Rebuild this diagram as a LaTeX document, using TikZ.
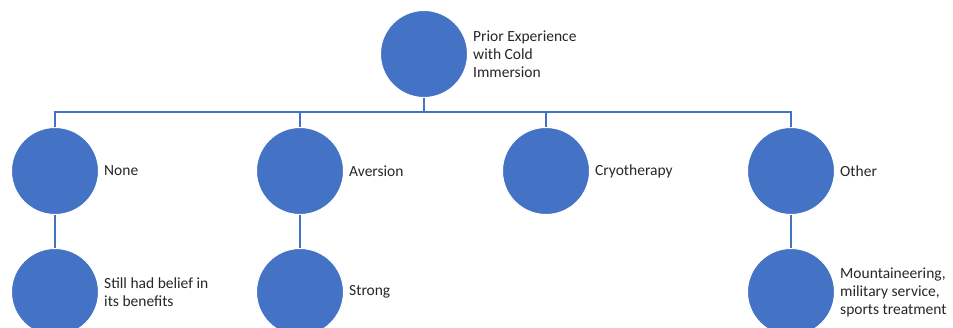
\documentclass[tikz,border=0pt]{standalone}
\usepackage{fontspec}
\setmainfont{Carlito}
\usetikzlibrary{positioning,calc}
\definecolor{dotblue}{HTML}{4472C4}

\begin{document}
\begin{tikzpicture}[
    x=1pt, y=-1pt,
    node distance=33pt and 5pt,
    dot/.style={circle, fill=dotblue, draw=white, line width=1pt,
                minimum size=87pt, inner sep=0pt},
    lbl/.style={align=left, inner sep=0pt, text=black!85,
                font=\fontsize{15.5}{18}\selectfont},
    link/.style={draw=dotblue, line width=2pt}
  ]
  \useasboundingbox (0,0) rectangle (953,328);

  % root
  \node[dot] (prior) at (424,54) {};
  \node[lbl, right=of prior] (priortxt) {Prior Experience\\with Cold\\Immersion};

  % second row
  \node[dot] (none) at (55,171) {};
  \node[dot] (aversion) at (300,171) {};
  \node[dot] (cryo) at (546,171) {};
  \node[dot] (other) at (791,171) {};
  \node[lbl, right=of none] (nonetxt) {None};
  \node[lbl, right=of aversion] (aversiontxt) {Aversion};
  \node[lbl, right=of cryo] (cryotxt) {Cryotherapy};
  \node[lbl, right=of other] (othertxt) {Other};

  % third row
  \node[dot, below=of none] (belief) {};
  \node[dot, below=of aversion] (strong) {};
  \node[dot, below=of other] (mount) {};
  \node[lbl, right=of belief] (belieftxt) {Still had belief in\\its benefits};
  \node[lbl, right=of strong] (strongtxt) {Strong};
  \node[lbl, right=of mount] (mounttxt) {Mountaineering,\\military service,\\sports treatment};

  \coordinate (bus) at ($(prior.south)!0.5!(cryo.north)$);
  \foreach \n in {none,aversion,cryo,other}
    \draw[link] (prior.south) -- (prior.south |- bus) -| (\n.north);
  \draw[link] (none) -- (belief);
  \draw[link] (aversion) -- (strong);
  \draw[link] (other) -- (mount);
\end{tikzpicture}
\end{document}
